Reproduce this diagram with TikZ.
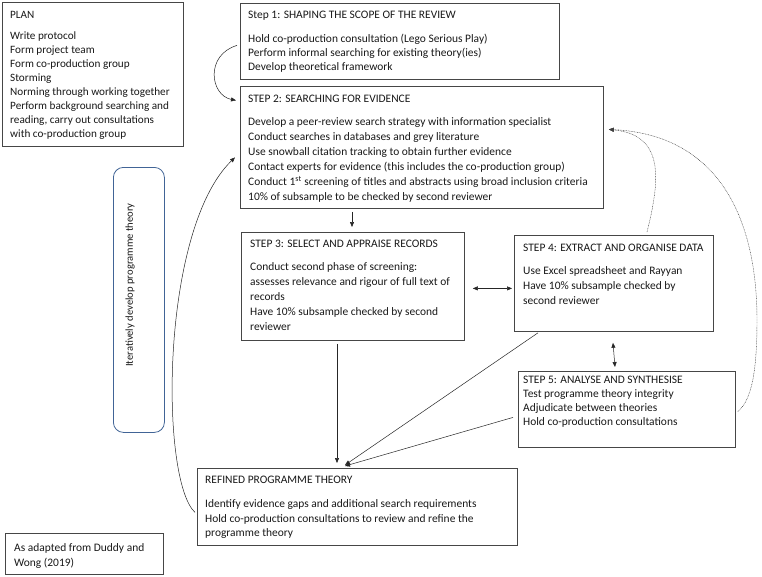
\documentclass[tikz,border=0pt]{standalone}
\usepackage{fontspec}
\setmainfont{Carlito}
\usetikzlibrary{arrows.meta}
\definecolor{boxgray}{RGB}{70,70,70}
\definecolor{bluec}{RGB}{65,100,150}
\definecolor{inkc}{RGB}{25,25,25}
\tikzset{
  box/.style={draw=boxgray, line width=0.8pt, anchor=north west, inner sep=0pt},
  txt/.style={anchor=north west, align=left, inner sep=0pt, text=inkc, font=\fontsize{11.45}{#1}\selectfont},
  txt/.default=14.5,
  arr/.style={-{Triangle[length=5pt,width=4pt]}, line width=0.5pt, draw=black!85},
  darr/.style={{Triangle[length=5pt,width=4pt]}-{Triangle[length=5pt,width=4pt]}, line width=0.5pt, draw=black!85},
  dotarr/.style={-{Triangle[length=5pt,width=4pt]}, line width=0.45pt, draw=black!75, dash pattern=on 0.8pt off 0.8pt}
}
\begin{document}
\begin{tikzpicture}[x=1pt,y=-1pt]
\useasboundingbox[fill=white] (0,0) rectangle (762,576);

% boxes
\node[box, minimum width=181pt, minimum height=144pt] (plan) at (2,2) {};
\node[box, minimum width=319pt, minimum height=76pt] (s1) at (240,3) {};
\node[box, minimum width=363pt, minimum height=122pt] (s2) at (240,86) {};
\node[box, minimum width=223pt, minimum height=108pt] (s3) at (241,232) {};
\node[box, minimum width=199pt, minimum height=96pt] (s4) at (514,235) {};
\node[box, minimum width=217pt, minimum height=76pt] (s5) at (518,371) {};
\node[box, minimum width=320pt, minimum height=77pt] (rt) at (197,468) {};
\node[box, minimum width=158pt, minimum height=41pt] (cite) at (5,533) {};
\node[draw=bluec, line width=0.8pt, rounded corners=10pt, anchor=north west, inner sep=0pt,
      minimum width=51pt, minimum height=265pt] (it) at (113,167) {};

% texts
\node[txt=14, font=\fontsize{11.2}{14}\selectfont] (plant) at (10,8.9) {\strut PLAN\\[7pt]
Write protocol\\
Form project team\\
Form co-production group\\
Storming\\
Norming through working together\\
Perform background searching and\\
reading, carry out consultations\\
with co-production group};

\node[txt=14] (s1t) at (248,8.9) {\strut Step 1: SHAPING THE SCOPE OF THE REVIEW\\[10pt]
Hold co-production consultation (Lego Serious Play)\\
Perform informal searching for existing theory(ies)\\
Develop theoretical framework};

\node[txt=15] (s2t) at (248,91.5) {\strut STEP 2: SEARCHING FOR EVIDENCE\\[8pt]
Develop a peer-review search strategy with information specialist\\
Conduct searches in databases and grey literature\\
Use snowball citation tracking to obtain further evidence\\
Contact experts for evidence (this includes the co-production group)\\
Conduct 1\textsuperscript{st} screening of titles and abstracts using broad inclusion criteria\\
10\% of subsample to be checked by second reviewer};

\node[txt=15] (s3t) at (250,236.5) {\strut STEP 3: SELECT AND APPRAISE RECORDS\\[8pt]
Conduct second phase of screening:\\
assesses relevance and rigour of full text of\\
records\\
Have 10\% subsample checked by second\\
reviewer};

\node[txt=15] (s4t) at (523,240.5) {\strut STEP 4: EXTRACT AND ORGANISE DATA\\[8pt]
Use Excel spreadsheet and Rayyan\\
Have 10\% subsample checked by\\
second reviewer};

\node[txt=14] (s5t) at (523,373.5) {\strut STEP 5: ANALYSE AND SYNTHESISE\\
Test programme theory integrity\\
Adjudicate between theories\\
Hold co-production consultations};

\node[txt=14.5] (rtt) at (205,473.5) {\strut REFINED PROGRAMME THEORY\\[9.5pt]
Identify evidence gaps and additional search requirements\\
Hold co-production consultations to review and refine the\\
programme theory};

\node[txt=15] (citet) at (14,540.5) {\strut As adapted from Duddy and\\
Wong (2019)};

\node[rotate=90, inner sep=0pt, text=inkc, font=\fontsize{10.6}{14}\selectfont] (itt) at (130,285) {Iteratively develop programme theory};

% connectors
\draw[arr] ([shift={(-3,4)}]s1.west) .. controls (205,55) and (210,95) .. ([shift={(-4,-47)}]s2.west);
\draw[arr] ([shift={(112,3)}]s2.south west) -- ([shift={(111,-5)}]s3.north west);
\draw[darr] ([shift={(8,2)}]s3.east) -- ([shift={(-2,5)}]s4.west);
\draw[darr] ([shift={(99,11)}]s4.south west) -- ([shift={(97,-4)}]s5.north west);
\draw[arr] ([shift={(96,3)}]s3.south west) -- ([shift={(140,-5)}]rt.north west);
\draw[arr] ([shift={(24,1)}]s4.south west) -- ([shift={(148,-3)}]rt.north west);
\draw[arr] ([shift={(-5,8)}]s5.west) -- ([shift={(148,-2)}]rt.north west);
\draw[arr] ([shift={(-2,5.5)}]rt.west) .. controls (160,480) and (160,230) .. ([shift={(-5,10)}]s2.west);
\draw[dotarr] ([shift={(133,-3)}]s4.north west) .. controls (660,180) and (665,135) .. ([shift={(5,-18)}]s2.east);
\draw[dotarr] ([shift={(2,2)}]s5.east) .. controls (752,400) and (757,370) .. (757,320)
  .. controls (757,220) and (720,135) .. ([shift={(5,-18)}]s2.east);
\end{tikzpicture}
\end{document}
